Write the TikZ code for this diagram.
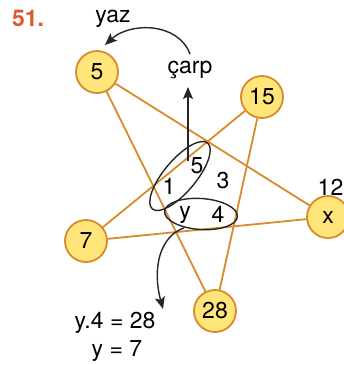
\documentclass[tikz,border=0pt]{standalone}
\usepackage{fontspec}
\setmainfont{TeX Gyre Heros}
\usetikzlibrary{arrows.meta,shapes.geometric}
\definecolor{orng}{HTML}{D98A2B}
\definecolor{yel}{HTML}{FFE57A}
\definecolor{numred}{HTML}{E0572A}
\begin{document}
\begin{tikzpicture}[x=1pt,y=-1pt,
  ball/.style={circle, draw=orng, fill=yel, line width=1.8pt, minimum size=42pt, inner sep=0pt, font=\fontsize{23}{23}\selectfont},
  txt/.style={font=\fontsize{23}{23}\selectfont, inner sep=0pt},
  staredge/.style={draw=orng, line width=1.8pt},
  blk/.style={line width=1.4pt, black!85},
  oval/.style={ellipse, draw, line width=1.4pt, black!85, inner sep=0pt},
  tip/.style={-{Stealth[length=12pt,width=10pt,inset=2.5pt]}}]
\useasboundingbox (0,0) rectangle (344,365);
% circles
\node[ball] (n5) at (97,72) {5};
\node[ball] (n15) at (262,97) {15};
\node[ball] (n7) at (86,241) {7};
\node[ball] (nx) at (328,217) {x};
\node[ball] (n28) at (215,311) {28};
% star
\draw[staredge] (n5) -- (nx);
\draw[staredge] (n5) -- (n28);
\draw[staredge] (n15) -- (n7);
\draw[staredge] (n15) -- (n28);
\draw[staredge] (n7) -- (nx);
% labels
\node[txt, font=\fontsize{23}{23}\selectfont\bfseries, text=numred] (num) at (28,18) {51.};
\node[txt] (yaz) at (113,19) {yaz};
\node[txt] (carp) at (190,70) {çarp};
\node[txt, anchor=east] (t12) at (343.5,187) {12};
\node[txt] (t5) at (197,166) {5};
\node[txt] (t1) at (169,186) {1};
\node[txt] (t3) at (223,181) {3};
\node[txt] (ty) at (185,215) {y};
\node[txt] (t4) at (218,214) {4};
\node[txt] (eq1) at (115,323) {y.4 = 28};
\node[txt] (eq2) at (117,351) {y = 7};
% ellipses
\node[oval, rotate=50, minimum width=86pt, minimum height=32pt] (e1) at (180,176) {};
\node[oval, rotate=-4, minimum width=73pt, minimum height=31pt] (e2) at (201,214) {};
% arrows
\coordinate (upstart) at (188,161);
\coordinate (uptip) at (188,87);
\draw[blk, tip] (upstart) -- (uptip);
\coordinate (yazstart) at (190,54);
\coordinate (yaztip) at (105,45);
\draw[blk, tip] (yazstart) .. controls (178,22) and (130,22) .. (yaztip);
\coordinate (dnstart) at (184,228);
\coordinate (dntip) at (163,309);
\draw[blk, tip] (dnstart) .. controls (160,236) and (152,268) .. (dntip);
\end{tikzpicture}
\end{document}
